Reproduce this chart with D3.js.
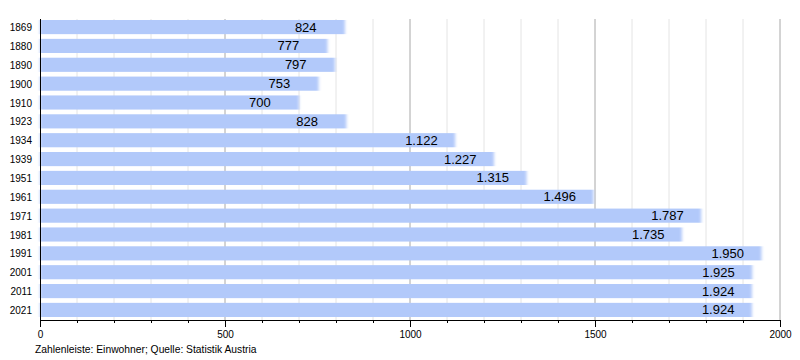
<!DOCTYPE html>
<html>
<head>
<meta charset="utf-8">
<script src="https://cdn.jsdelivr.net/npm/d3@7"></script>
<style>
  body { margin: 0; background: #fff; }
  text { font-family: "Liberation Sans", Arial, sans-serif; }
</style>
</head>
<body>
<script>
// census years and population (Einwohner)
var years = ["1869","1880","1890","1900","1910","1923","1934","1939","1951","1961","1971","1981","1991","2001","2011","2021"];
var population = [824, 777, 797, 753, 700, 828, 1122, 1227, 1315, 1496, 1787, 1735, 1950, 1925, 1924, 1924];
var majorTicks = [0, 500, 1000, 1500, 2000];
var caption = "Zahlenleiste: Einwohner; Quelle: Statistik Austria";

var data = years.map(function(y, i) { return {year: y, value: population[i]}; });

var width = 800, height = 360;
var svg = d3.select("body").append("svg")
    .attr("width", width)
    .attr("height", height);

var defs = svg.append("defs");
defs.append("filter")
    .attr("id", "soft")
    .attr("x", "-5%").attr("width", "110%")
    .append("feGaussianBlur")
    .attr("stdDeviation", "1.6 0.3");

var x = d3.scaleLinear().domain([0, 2000]).range([40, 780]);
var y = d3.scaleBand().domain(years).range([20, 317]).paddingInner(0.25).paddingOuter(0);

// minor gridlines every 100
svg.append("g")
    .selectAll("line")
    .data(d3.range(100, 2000, 100).filter(function(d) { return d % 500 != 0; }))
    .enter().append("line")
    .attr("x1", x).attr("x2", x)
    .attr("y1", 19).attr("y2", 320)
    .attr("stroke", "#e4e4e4")
    .attr("stroke-width", 1);

// major gridlines
svg.append("g")
    .selectAll("line")
    .data(majorTicks.slice(1))
    .enter().append("line")
    .attr("x1", x).attr("x2", x)
    .attr("y1", 19).attr("y2", 320)
    .attr("stroke", "#a8a8a8")
    .attr("stroke-width", 1);

// bars
svg.append("g")
    .attr("filter", "url(#soft)")
    .selectAll("rect")
    .data(data)
    .enter().append("rect")
    .attr("x", x(0))
    .attr("y", function(d) { return y(d.year); })
    .attr("width", function(d) { return x(d.value) - x(0); })
    .attr("height", y.bandwidth())
    .attr("fill", "#b2c9fa");

// value labels
var fmt = function(v) { return d3.format(",")(v).replace(",", "."); };
svg.append("g")
    .selectAll("text")
    .data(data)
    .enter().append("text")
    .attr("x", function(d) { return x(d.value) - 50; })
    .attr("y", function(d) { return y(d.year) + y.bandwidth() / 2 + 4.5; })
    .attr("font-size", 13)
    .attr("fill", "#000")
    .text(function(d) { return fmt(d.value); });

// year labels
svg.append("g")
    .selectAll("text")
    .data(data)
    .enter().append("text")
    .attr("x", 32)
    .attr("y", function(d) { return y(d.year) + y.bandwidth() / 2 + 4; })
    .attr("text-anchor", "end")
    .attr("font-size", 10)
    .attr("fill", "#000")
    .text(function(d) { return d.year; });

// left axis line
svg.append("line")
    .attr("x1", 40.5).attr("x2", 40.5)
    .attr("y1", 19).attr("y2", 320)
    .attr("stroke", "#000");

// bottom axis: minor ticks
svg.append("g")
    .attr("transform", "translate(0,320)")
    .call(d3.axisBottom(x).tickValues(d3.range(0, 2001, 100)).tickSize(3).tickFormat(""))
    .call(function(g) { g.select(".domain").remove(); });

// bottom axis: major ticks with labels
var xAxis = svg.append("g")
    .attr("transform", "translate(0,320)")
    .call(d3.axisBottom(x).tickValues(majorTicks).tickSize(7).tickPadding(4).tickFormat(d3.format("d")));
xAxis.select(".domain").attr("d", "M40,0.5H780").attr("stroke", "#000");
xAxis.selectAll("text")
    .attr("font-size", 10)
    .attr("font-family", "Liberation Sans, Arial, sans-serif")
    .attr("fill", "#000");

svg.append("text")
    .attr("x", 35)
    .attr("y", 353)
    .attr("font-size", 10.3)
    .attr("fill", "#000")
    .text(caption);
</script>
</body>
</html>
